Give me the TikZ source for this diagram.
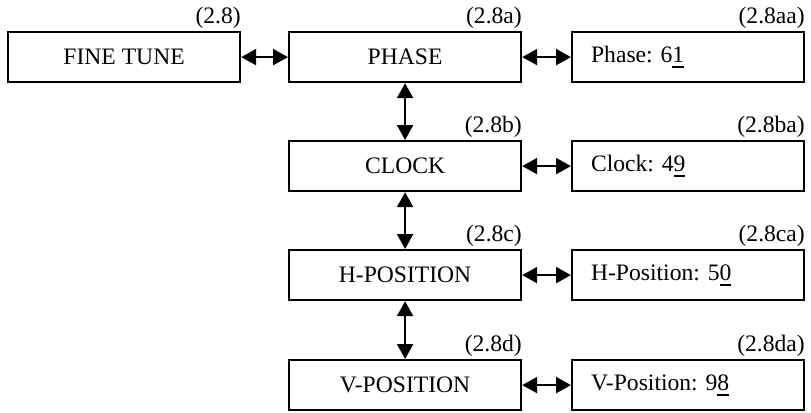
\documentclass[tikz,border=0pt]{standalone}
\usepackage{fontspec}
\setmainfont{Liberation Serif}
\usetikzlibrary{arrows.meta}
\frenchspacing
\newcommand\ulnum[1]{\setbox0\hbox{#1}\copy0\llap{\rule[-2.6pt]{\wd0}{0.9pt}}}
\begin{document}
\begin{tikzpicture}[x=0.5pt,y=-0.5pt,
  box/.style={draw,line width=1.1pt,minimum width=116pt,minimum height=25pt,inner sep=0pt,anchor=north west,font=\fontsize{11.8}{14}\selectfont},
  valbox/.style={box,text width=97pt,inner xsep=9.5pt,align=left},
  lab/.style={inner sep=0pt,anchor=base east,font=\fontsize{11.8}{14}\selectfont},
  arr/.style={line width=1.1pt,<->,>={Triangle[length=7.5pt,width=8pt]}}]
\useasboundingbox (0,0) rectangle (811,413);
% nodes
\node[box] (ft) at (7,31) {FINE TUNE};
\node[box] (ph) at (288,31) {PHASE};
\node[valbox] (phv) at (571,31) {\frenchspacing Phase: 6\ulnum{1}};
\node[box] (ck) at (288,140) {CLOCK};
\node[valbox] (ckv) at (571,140) {\frenchspacing Clock: 4\ulnum{9}};
\node[box] (hp) at (288,249) {H-POSITION};
\node[valbox] (hpv) at (571,249) {\frenchspacing H-Position: 5\ulnum{0}};
\node[box] (vp) at (288,359) {V-POSITION};
\node[valbox] (vpv) at (571,359) {\frenchspacing V-Position: 9\ulnum{8}};
% labels
\node[lab] (l1) at ([yshift=4pt]ft.north east) {(2.8)};
\node[lab] (l2) at ([yshift=4pt]ph.north east) {(2.8a)};
\node[lab] (l3) at ([yshift=4pt]phv.north east) {(2.8aa)};
\node[lab] (l4) at ([yshift=4pt]ck.north east) {(2.8b)};
\node[lab] (l5) at ([yshift=4pt]ckv.north east) {(2.8ba)};
\node[lab] (l6) at ([yshift=4pt]hp.north east) {(2.8c)};
\node[lab] (l7) at ([yshift=4pt]hpv.north east) {(2.8ca)};
\node[lab] (l8) at ([yshift=4pt]vp.north east) {(2.8d)};
\node[lab] (l9) at ([yshift=4pt]vpv.north east) {(2.8da)};
% connectors
\draw[arr] (ft) -- (ph);
\draw[arr] (ph) -- (phv);
\draw[arr] (ck) -- (ckv);
\draw[arr] (hp) -- (hpv);
\draw[arr] (vp) -- (vpv);
\draw[arr] (ph) -- (ck);
\draw[arr] (ck) -- (hp);
\draw[arr] (hp) -- (vp);
\end{tikzpicture}
\end{document}
